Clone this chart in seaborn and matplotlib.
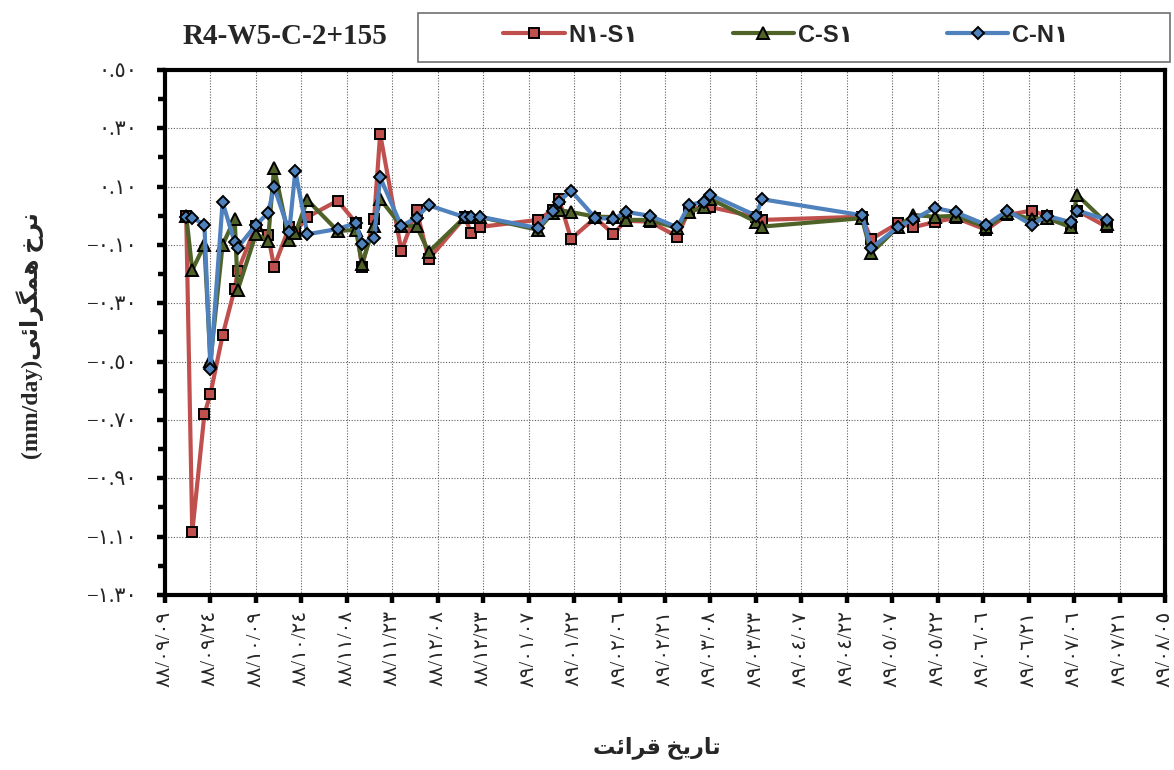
import numpy as np
import pandas as pd
import matplotlib
matplotlib.use("Agg")
import matplotlib.pyplot as plt
from matplotlib.lines import Line2D
from matplotlib.patches import Rectangle
from matplotlib.ticker import FixedLocator, FuncFormatter
import seaborn as sns

# Reading days, counted from 88/09/09
days = [7, 9, 13, 15, 19, 23, 24, 30, 34, 36, 41, 43, 47, 57, 63, 65, 69, 71,
        78, 83, 87, 99, 101, 104, 123, 128, 130, 134, 142, 148, 152, 160, 169,
        173, 178, 180, 195, 197, 230, 233, 242, 247, 254, 261, 271, 278, 286,
        291, 299, 301, 311]

# Convergence rate (mm/day) per survey line
rate_n1_s1 = [0.00, -1.085, -0.68, -0.61, -0.41, -0.25, -0.19, -0.035, -0.066,
              -0.175, -0.038, -0.055, -0.004, 0.052, -0.024, -0.175, -0.011,
              0.281, -0.12, 0.02, -0.148, -0.004, -0.059, -0.038, -0.014, 0.02,
              0.058, -0.079, -0.007, -0.062, -0.017, -0.02, -0.071, 0.02, 0.034,
              0.03, -0.004, -0.014, -0.003, -0.08, -0.025, -0.039, -0.021,
              -0.007, -0.048, 0.003, 0.018, 0.0, -0.031, 0.018, -0.039]
rate_c_s1 = [0.0, -0.186, -0.10, -0.497, -0.10, -0.01, -0.254, -0.062, -0.085,
             0.165, -0.083, -0.059, 0.054, -0.052, -0.048, -0.165, -0.035, 0.058,
             -0.035, -0.035, -0.124, -0.004, -0.004, -0.004, -0.048, 0.01, 0.02,
             0.013, -0.003, -0.004, -0.014, -0.014, -0.042, 0.013, 0.03, 0.058,
             -0.02, -0.037, -0.008, -0.128, -0.037, 0.003, -0.003, 0.0, -0.039,
             0.009, -0.011, -0.008, -0.039, 0.072, -0.028]
rate_c_n1 = [-0.003, -0.006, -0.031, -0.525, 0.047, -0.091, -0.109, -0.031,
             0.009, 0.098, -0.054, 0.154, -0.063, -0.045, -0.025, -0.096, -0.075,
             0.132, -0.035, -0.006, 0.036, -0.005, -0.003, -0.003, -0.042, 0.018,
             0.049, 0.086, -0.007, -0.011, 0.014, 0.0, -0.039, 0.037, 0.049,
             0.072, 0.001, 0.057, 0.002, -0.111, -0.037, -0.012, 0.027, 0.012,
             -0.031, 0.018, -0.031, 0.0, -0.022, 0.018, -0.014]

series_names = ["N١-S١", "C-S١", "C-N١"]

# Date axis labels every 15 days
date_labels = ["88/09/09", "88/09/24", "88/10/09", "88/10/24", "88/11/08",
               "88/11/23", "88/12/08", "88/12/23", "89/01/07", "89/01/22",
               "89/02/06", "89/02/21", "89/03/08", "89/03/23", "89/04/07",
               "89/04/22", "89/05/07", "89/05/22", "89/06/06", "89/06/21",
               "89/07/06", "89/07/21", "89/08/05"]

AR_DIGITS = str.maketrans("0123456789", "٠١٢٣٤٥٦٧٨٩")


def ar_num(s):
    return s.translate(AR_DIGITS)


df = pd.DataFrame({
    "day": days * 3,
    "rate": rate_n1_s1 + rate_c_s1 + rate_c_n1,
    "series": [n for n in series_names for _ in days],
})

styles = {
    "N١-S١": dict(color="#C0504D", marker="s", ms=7.5),
    "C-S١": dict(color="#4F6228", marker="^", ms=8.5),
    "C-N١": dict(color="#4F81BD", marker="D", ms=6.5),
}

sns.set_theme(style="white")
plt.rcParams["font.family"] = ["Liberation Serif", "DejaVu Sans"]

fig = plt.figure(figsize=(11.74, 7.70), dpi=100)
ax = fig.add_axes([165 / 1174, 1 - 595 / 770, 1000 / 1174, 525 / 770])

for name in series_names:
    st = styles[name]
    sub = df[df["series"] == name]
    sns.lineplot(data=sub, x="day", y="rate", ax=ax, color=st["color"],
                 linewidth=3, marker=st["marker"], markersize=st["ms"],
                 markerfacecolor=st["color"], markeredgecolor="black",
                 markeredgewidth=1.4, estimator=None, sort=False, legend=False)

ax.set_xlim(0, 330)
ax.set_ylim(-1.30, 0.50)
ax.set_xticks(np.arange(0, 331, 15))
ax.set_xticklabels([ar_num(s) for s in date_labels], rotation=90, fontsize=14.5)
ax.yaxis.set_major_locator(FixedLocator(np.round(np.arange(-1.3, 0.51, 0.2), 2)))
ax.yaxis.set_minor_locator(FixedLocator(np.round(np.arange(-1.2, 0.5, 0.2), 2)))
ax.yaxis.set_major_formatter(FuncFormatter(
    lambda v, p: ("−" if v < -1e-9 else "") + ar_num(f"{abs(v):.2f}")))
ax.tick_params(axis="y", labelsize=15)

ax.set_xlabel("")
ax.set_ylabel("")
ax.grid(True, which="major", color="#606060", linestyle=(0, (1, 1.5)), linewidth=0.8)
ax.set_axisbelow(True)

ax.tick_params(axis="both", which="both", direction="out", color="black",
               left=True, bottom=True, top=False, right=False, width=3.2)
ax.tick_params(axis="both", which="major", length=6)
ax.tick_params(axis="y", which="minor", length=5)
ax.tick_params(axis="x", which="minor", bottom=False)
ax.tick_params(axis="x", pad=5)
ax.tick_params(axis="y", pad=14)

for sp in ax.spines.values():
    sp.set_visible(True)
    sp.set_color("black")
    sp.set_linewidth(3)

# Legend in its own box
handles = [Line2D([], [], color=styles[n]["color"], lw=3, marker=styles[n]["marker"],
                  ms=styles[n]["ms"], mfc=styles[n]["color"], mec="black", mew=1.4)
           for n in series_names]
fig.legend(handles, series_names, loc="center",
           bbox_to_anchor=(786 / 1174, 1 - 35 / 770), ncol=3, frameon=False,
           handlelength=2.6, handletextpad=0.15, columnspacing=4.0,
           prop={"family": ["Liberation Sans", "DejaVu Sans"], "weight": "bold",
                 "size": 17})
fig.patches.append(Rectangle((418 / 1174, 1 - 62 / 770), 752 / 1174, 49 / 770,
                             transform=fig.transFigure, fill=False,
                             edgecolor="#707070", linewidth=1.2))

fig.text(285 / 1174, 1 - 37 / 770, "R4-W5-C-2+155", ha="center", va="center",
         fontsize=21, fontweight="bold", family="Liberation Serif")

# Axis titles (Persian text in presentation forms, visual order)
y_title = "(mm/day)" + "\ufef0\ufe8b\ufe8d\ufeae\ufb95\ufee4\ufeeb" + " " + "\ufea5\ufeae\ufee7"
x_title = "\ufe96\ufe8b\ufe8d\ufeae\ufed7" + " " + "\ufea6\ufef3\ufead\ufe8e\ufe97"
fig.text(30 / 1174, 1 - 336 / 770, y_title, rotation=90, ha="center", va="center",
         fontsize=17, fontweight="bold", family=["Liberation Serif", "DejaVu Sans"])
fig.text(657 / 1174, 1 - 748 / 770, x_title, ha="center", va="center",
         fontsize=16, fontweight="bold", family=["Liberation Serif", "DejaVu Sans"])

fig.savefig("out.png", dpi=100)
